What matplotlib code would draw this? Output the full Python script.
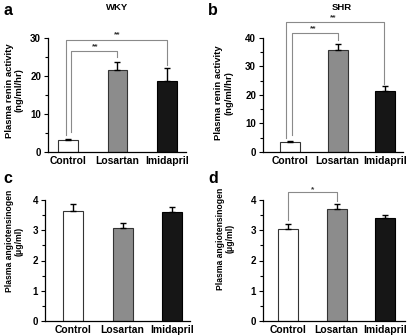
import matplotlib
matplotlib.use("Agg")
import matplotlib.pyplot as plt
import numpy as np

plt.rcParams['font.family'] = ['Liberation Sans', 'DejaVu Sans']
plt.rcParams['font.weight'] = 'bold'

groups = ["Control", "Losartan", "Imidapril"]
colors = ["#ffffff", "#8c8c8c", "#161616"]

# panel a: WKY renin
renin_wky = [3.1, 21.7, 18.7]
renin_wky_err = [0.2, 2.1, 3.4]
# panel b: SHR renin
renin_shr = [3.6, 35.8, 21.5]
renin_shr_err = [0.4, 2.2, 1.6]
# panel c: WKY angiotensinogen
agt_wky = [3.62, 3.08, 3.60]
agt_wky_err = [0.25, 0.17, 0.18]
# panel d: SHR angiotensinogen
agt_shr = [3.04, 3.70, 3.39]
agt_shr_err = [0.17, 0.17, 0.11]

W, H = 409, 336
fig = plt.figure(figsize=(W / 100, H / 100), dpi=100)


def add_ax(l, t, r, b):
    return fig.add_axes([l / W, 1 - b / H, (r - l) / W, (b - t) / H])


def panel(ax, vals, errs, ymax, major, minor, xlim, width, ylabel, ylsize, gap, axw, ly):
    x = np.arange(len(groups))
    ax.bar(x, vals, width=width, color=colors, edgecolor=["#333333", "#333333", "#000000"],
           linewidth=0.8, zorder=2)
    ax.errorbar(x, vals, yerr=[np.zeros(len(errs)), errs], fmt='none', ecolor='black',
                elinewidth=1.0, capsize=2.5, capthick=1.0, zorder=3)
    ax.set_xlim(*xlim)
    ax.set_ylim(0, ymax)
    ax.set_yticks(np.arange(0, ymax + 1e-9, major))
    ax.set_yticks(np.arange(0, ymax + 1e-9, minor), minor=True)
    ax.set_xticks(x)
    ax.set_xticklabels(groups, fontsize=7.5, fontweight='bold')
    ax.tick_params(axis='x', length=0, pad=3)
    ax.tick_params(axis='y', which='major', length=3, width=0.8, labelsize=7, pad=2)
    ax.tick_params(axis='y', which='minor', length=2, width=0.8)
    for lab in ax.get_yticklabels():
        lab.set_fontweight('bold')
    for s in ['top', 'right']:
        ax.spines[s].set_visible(False)
    for s in ['left', 'bottom']:
        ax.spines[s].set_linewidth(0.9)
    ax.set_ylabel(ylabel, fontsize=ylsize, fontweight='bold', linespacing=1.15)
    ax.yaxis.set_label_coords(-gap / axw, ly)


def bracket(ax, x1, x2, y, y1, y2, stars, sx, sy):
    ax.plot([x1, x1, x2, x2], [y1, y, y, y2], color='#8a8a8a', lw=0.8,
            clip_on=False, zorder=1)
    ax.text(sx, sy, stars, ha='center', va='center', fontsize=6,
            color='#333333', clip_on=False)


# a
axa = add_ax(48, 38, 186, 152)
panel(axa, renin_wky, renin_wky_err, 30, 10, 5, (-0.40, 2.38), 0.40,
      "Plasma renin activity\n(ng/ml/hr)", 6.8, 24, 186 - 48, 0.54)
bracket(axa, 0.06, 1.0, 26.6, 5.3, 25.1, "**", 0.55, 27.6)
bracket(axa, -0.04, 2.0, 29.6, 4.5, 22.9, "**", 1.0, 30.9)

# b
axb = add_ax(263, 38, 403, 152)
panel(axb, renin_shr, renin_shr_err, 40, 10, 5, (-0.565, 2.37), 0.42,
      "Plasma renin activity\n(ng/ml/hr)", 6.8, 30, 403 - 263, 0.52)
bracket(axb, 0.05, 1.0, 41.8, 6.0, 39.3, "**", 0.48, 43.2)
bracket(axb, -0.08, 1.97, 45.6, 5.0, 24.0, "**", 0.9, 47.2)

# c
axc = add_ax(45, 200, 190, 321)
panel(axc, agt_wky, agt_wky_err, 4, 1, 0.5, (-0.566, 2.36), 0.40,
      "Plasma angiotensinogen\n(μg/ml)", 6.2, 21, 190 - 45, 0.66)

# d
axd = add_ax(263, 200, 405, 321)
panel(axd, agt_shr, agt_shr_err, 4, 1, 0.5, (-0.51, 2.4), 0.41,
      "Plasma angiotensinogen\n(μg/ml)", 6.2, 28, 405 - 263, 0.68)
bracket(axd, 0.0, 1.0, 4.25, 3.34, 3.97, "*", 0.5, 4.33)

# panel letters and titles
for (x, y, s) in [(3, 3, 'a'), (208, 3, 'b'), (3, 171, 'c'), (208, 171, 'd')]:
    fig.text(x / W, 1 - y / H, s, fontsize=11.5, fontweight='bold', va='top', ha='left')
fig.text(117 / W, 1 - 7 / H, "WKY", fontsize=6.8, fontweight='bold', ha='center', va='center')
fig.text(342 / W, 1 - 8 / H, "SHR", fontsize=6.8, fontweight='bold', ha='center', va='center')

fig.savefig("out.png", dpi=100)
